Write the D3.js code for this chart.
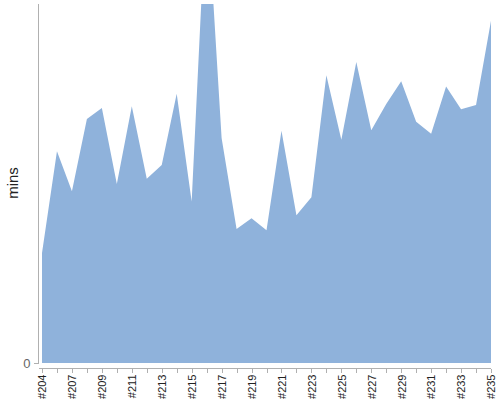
<!DOCTYPE html>
<html>
<head>
<meta charset="utf-8">
<script src="https://cdn.jsdelivr.net/npm/d3@7"></script>
<style>
  body { margin: 0; background: #fff; }
  svg { font-family: "Liberation Sans", Arial, sans-serif; }
  .axis path, .axis line { stroke: #b0b0b0; shape-rendering: crispEdges; }
  .y.axis text { fill: #666; font-size: 13px; }
  .x.axis text { fill: #222; font-size: 11px; }
</style>
</head>
<body>
<div id="chart"></div>
<script>
// Data
var builds = ["#204", "#205", "#207", "#208", "#209", "#210", "#211", "#212", "#213", "#214",
              "#215", "#216", "#217", "#218", "#219", "#220", "#221", "#222", "#223", "#224",
              "#225", "#226", "#227", "#228", "#229", "#230", "#231", "#232", "#233", "#234", "#235"];
var durations = [18.4, 35.4, 28.7, 40.8, 42.6, 29.9, 42.9, 30.8, 33.1, 45.0,
                 27.0, 78.7, 37.6, 22.4, 24.2, 22.2, 38.8, 24.7, 27.7, 48.1,
                 37.3, 50.3, 38.9, 43.3, 47.1, 40.3, 38.3, 46.2, 42.4, 43.1, 57.2];
var yTicks = [0];

// Parameters
var width = 500;
var height = 400;
var plotTop = 4;
var plotBottom = 363;
var plotLeft = 42;
var plotRight = 491;
var axisX = 38.5;
var axisY = 368.5;

var data = builds.map(function(b, i){ return {build: b, mins: durations[i]}; });

var svg = d3.select("#chart").append("svg")
    .attr("width", width)
    .attr("height", height);

var xScale = d3.scalePoint().domain(builds).range([plotLeft, plotRight]);
var yScale = d3.scaleLinear().domain([0, 60]).range([plotBottom, plotTop]);

svg.append("clipPath").attr("id", "clip")
  .append("rect")
    .attr("x", plotLeft)
    .attr("y", plotTop)
    .attr("width", plotRight - plotLeft)
    .attr("height", plotBottom - plotTop);

var area = d3.area()
    .x(function(d){ return xScale(d.build); })
    .y0(yScale(0))
    .y1(function(d){ return yScale(d.mins); });

svg.append("path")
    .datum(data)
    .attr("clip-path", "url(#clip)")
    .attr("fill", "#8fb2db")
    .attr("d", area);

// Y axis
var yAxis = d3.axisLeft(yScale).tickValues(yTicks).tickSize(5).tickSizeOuter(0).tickPadding(3);
var yG = svg.append("g")
    .attr("class", "y axis")
    .attr("transform", "translate(" + axisX + ",0)")
    .call(yAxis);
yG.select(".domain").attr("d", "M0," + plotTop + "V" + plotBottom);

// X axis
var xAxis = d3.axisBottom(xScale).tickSize(4).tickSizeOuter(0)
    .tickFormat(function(d, i){ return i % 2 === 0 ? d : ""; });
var xG = svg.append("g")
    .attr("class", "x axis")
    .attr("transform", "translate(0," + axisY + ")")
    .call(xAxis);
xG.select(".domain").attr("d", "M" + axisX + ",0H" + plotRight);
xG.selectAll("text")
    .attr("transform", "rotate(-90)")
    .attr("text-anchor", "end")
    .attr("x", -6)
    .attr("y", 0)
    .attr("dy", "0.35em");

// Label
svg.append("text")
    .attr("transform", "translate(18,183)rotate(-90)")
    .attr("text-anchor", "middle")
    .attr("font-size", "15px")
    .attr("fill", "#222")
    .text("mins");
</script>
</body>
</html>
